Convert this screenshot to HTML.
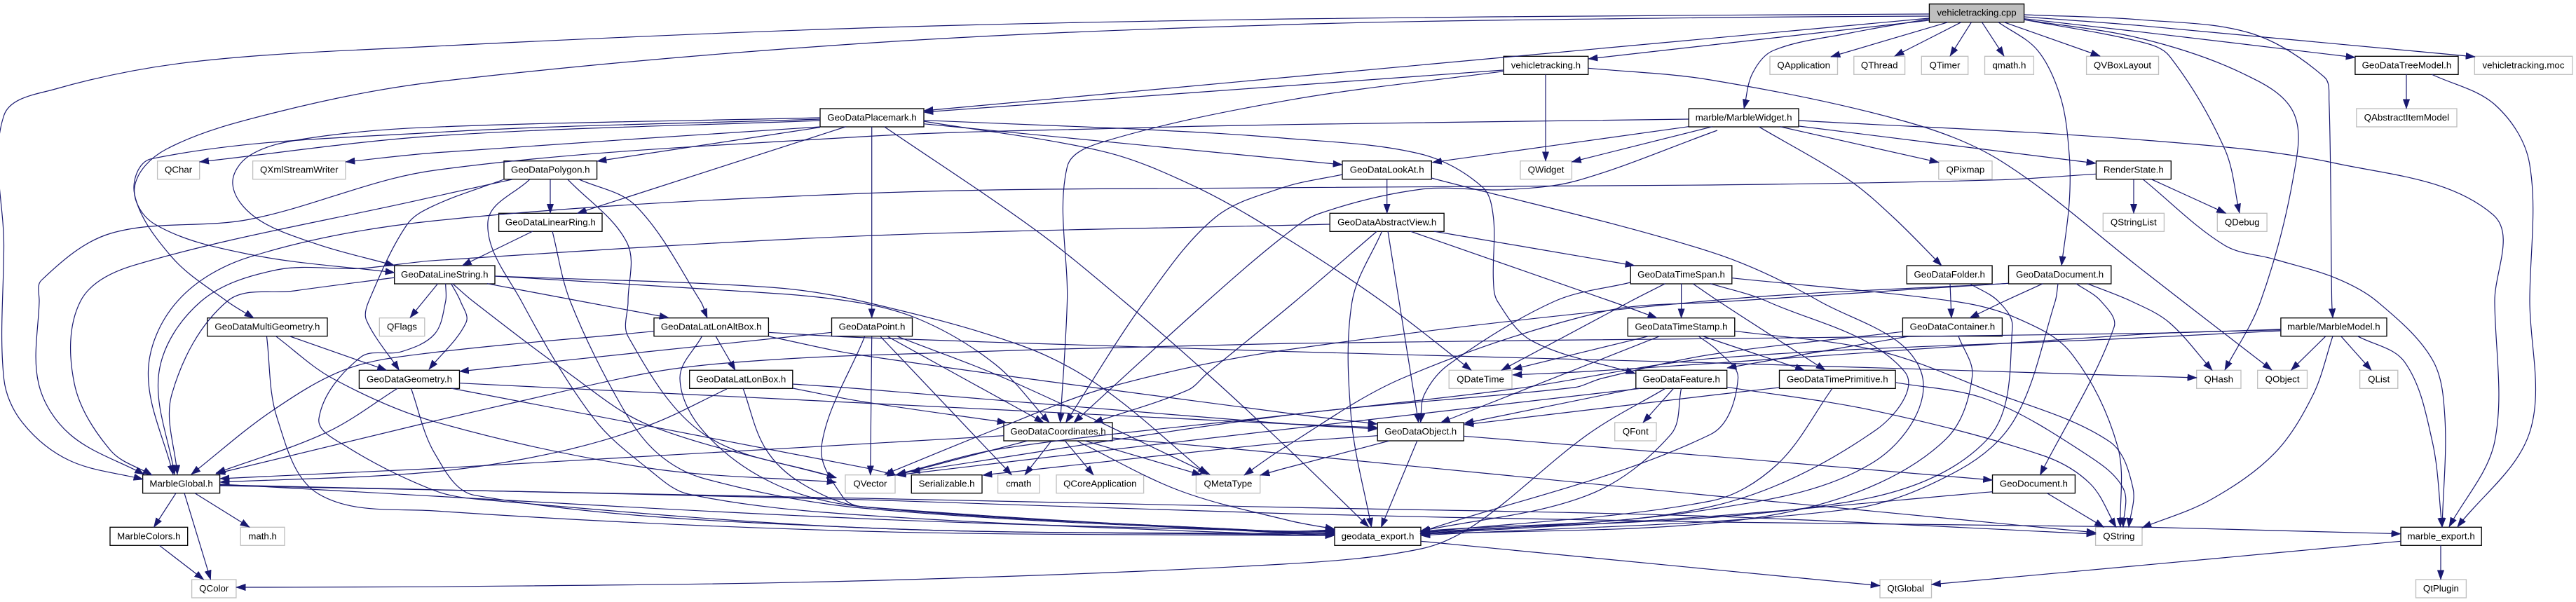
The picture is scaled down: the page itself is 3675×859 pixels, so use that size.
<!DOCTYPE html>
<html><head><meta charset="utf-8"><title>vehicletracking.cpp include graph</title>
<style>
html,body{margin:0;padding:0;background:#fff;width:3675px;height:859px;overflow:hidden}
svg{display:block}
.n rect{fill:#fff;stroke:#000;stroke-width:1.33}
.g rect{fill:#fff;stroke:#bfbfbf;stroke-width:1.33}
text{font-family:"Liberation Sans",sans-serif;font-size:13.33px;text-anchor:middle;fill:#000}
#E path{fill:none;stroke:#191970;stroke-width:1.2;marker-end:url(#a)}
</style></head><body>
<svg id="S" xmlns="http://www.w3.org/2000/svg" width="3675" height="859" viewBox="0 0 3675 859">
<defs><marker id="a" markerUnits="userSpaceOnUse" markerWidth="15" markerHeight="11" refX="13.3" refY="5" orient="auto"><path d="M0,0.3L13.3,5L0,9.7z" fill="#191970" stroke="#191970" stroke-width=".6"/></marker></defs>
<rect width="3675" height="859" fill="#fff"/>
<g class="n"><rect x="2752.4" y="5.7" width="135.2" height="26" style="fill:#bfbfbf"/><text x="2820" y="22.7">vehicletracking.cpp</text></g>
<g class="g"><rect x="2525" y="80.3" width="96.5" height="26"/><text x="2573.2" y="97.3">QApplication</text></g>
<g class="g"><rect x="2644.8" y="80.3" width="72.8" height="26"/><text x="2681.2" y="97.3">QThread</text></g>
<g class="g"><rect x="2741.3" y="80.3" width="66.4" height="26"/><text x="2774.5" y="97.3">QTimer</text></g>
<g class="g"><rect x="2831.5" y="80.3" width="69.9" height="26"/><text x="2866.4" y="97.3">qmath.h</text></g>
<g class="g"><rect x="2976.6" y="80.3" width="102.9" height="26"/><text x="3028" y="97.3">QVBoxLayout</text></g>
<g class="n"><rect x="2145.1" y="80.3" width="120.6" height="26"/><text x="2205.4" y="97.3">vehicletracking.h</text></g>
<g class="n"><rect x="3359.9" y="80.3" width="147.1" height="26"/><text x="3433.4" y="97.3">GeoDataTreeModel.h</text></g>
<g class="g"><rect x="3530.3" y="80.3" width="139.6" height="26"/><text x="3600" y="97.3">vehicletracking.moc</text></g>
<g class="n"><rect x="1170" y="155" width="148" height="26"/><text x="1244" y="172">GeoDataPlacemark.h</text></g>
<g class="n"><rect x="2409.3" y="155" width="156.7" height="26"/><text x="2487.6" y="172">marble/MarbleWidget.h</text></g>
<g class="g"><rect x="3361.8" y="155" width="143.2" height="26"/><text x="3433.4" y="172">QAbstractItemModel</text></g>
<g class="g"><rect x="224.6" y="229.7" width="60.1" height="26"/><text x="254.6" y="246.7">QChar</text></g>
<g class="g"><rect x="360.6" y="229.7" width="132.4" height="26"/><text x="426.8" y="246.7">QXmlStreamWriter</text></g>
<g class="n"><rect x="719" y="229.7" width="132.6" height="26"/><text x="785.3" y="246.7">GeoDataPolygon.h</text></g>
<g class="n"><rect x="1915" y="229.7" width="127.3" height="26"/><text x="1978.7" y="246.7">GeoDataLookAt.h</text></g>
<g class="g"><rect x="2168.9" y="229.7" width="73.5" height="26"/><text x="2205.6" y="246.7">QWidget</text></g>
<g class="g"><rect x="2765.8" y="229.7" width="76.2" height="26"/><text x="2803.9" y="246.7">QPixmap</text></g>
<g class="n"><rect x="2990.4" y="229.7" width="106.9" height="26"/><text x="3043.8" y="246.7">RenderState.h</text></g>
<g class="n"><rect x="711.6" y="304.3" width="147.4" height="26"/><text x="785.3" y="321.3">GeoDataLinearRing.h</text></g>
<g class="n"><rect x="1897.2" y="304.3" width="162.9" height="26"/><text x="1978.7" y="321.3">GeoDataAbstractView.h</text></g>
<g class="g"><rect x="3000.3" y="304.3" width="87.1" height="26"/><text x="3043.8" y="321.3">QStringList</text></g>
<g class="g"><rect x="3163.3" y="304.3" width="70.8" height="26"/><text x="3198.7" y="321.3">QDebug</text></g>
<g class="n"><rect x="562.7" y="379" width="143.3" height="26"/><text x="634.3" y="396">GeoDataLineString.h</text></g>
<g class="n"><rect x="2326.2" y="379" width="144.6" height="26"/><text x="2398.5" y="396">GeoDataTimeSpan.h</text></g>
<g class="n"><rect x="2720.3" y="379" width="121.8" height="26"/><text x="2781.2" y="396">GeoDataFolder.h</text></g>
<g class="n"><rect x="2865.5" y="379" width="146.3" height="26"/><text x="2938.6" y="396">GeoDataDocument.h</text></g>
<g class="n"><rect x="295.8" y="453.7" width="171.2" height="26"/><text x="381.4" y="470.7">GeoDataMultiGeometry.h</text></g>
<g class="g"><rect x="541.3" y="453.7" width="64.5" height="26"/><text x="573.5" y="470.7">QFlags</text></g>
<g class="n"><rect x="933" y="453.7" width="163.4" height="26"/><text x="1014.7" y="470.7">GeoDataLatLonAltBox.h</text></g>
<g class="n"><rect x="1186.5" y="453.7" width="115" height="26"/><text x="1244" y="470.7">GeoDataPoint.h</text></g>
<g class="n"><rect x="2322.3" y="453.7" width="152.5" height="26"/><text x="2398.5" y="470.7">GeoDataTimeStamp.h</text></g>
<g class="n"><rect x="2714.4" y="453.7" width="142" height="26"/><text x="2785.4" y="470.7">GeoDataContainer.h</text></g>
<g class="n"><rect x="3253.9" y="453.7" width="151.1" height="26"/><text x="3329.4" y="470.7">marble/MarbleModel.h</text></g>
<g class="n"><rect x="512.4" y="528.3" width="143.1" height="26"/><text x="584" y="545.3">GeoDataGeometry.h</text></g>
<g class="n"><rect x="983.7" y="528.3" width="147.1" height="26"/><text x="1057.2" y="545.3">GeoDataLatLonBox.h</text></g>
<g class="g"><rect x="2067.2" y="528.3" width="89.8" height="26"/><text x="2112.1" y="545.3">QDateTime</text></g>
<g class="n"><rect x="2333.8" y="528.3" width="129.9" height="26"/><text x="2398.7" y="545.3">GeoDataFeature.h</text></g>
<g class="n"><rect x="2538.5" y="528.3" width="165.6" height="26"/><text x="2621.3" y="545.3">GeoDataTimePrimitive.h</text></g>
<g class="g"><rect x="3133.7" y="528.3" width="63.3" height="26"/><text x="3165.3" y="545.3">QHash</text></g>
<g class="g"><rect x="3220.7" y="528.3" width="70.8" height="26"/><text x="3256.1" y="545.3">QObject</text></g>
<g class="g"><rect x="3366.6" y="528.3" width="54.2" height="26"/><text x="3393.7" y="545.3">QList</text></g>
<g class="n"><rect x="1432" y="603" width="155" height="26"/><text x="1509.5" y="620">GeoDataCoordinates.h</text></g>
<g class="n"><rect x="1965.2" y="603" width="123" height="26"/><text x="2026.7" y="620">GeoDataObject.h</text></g>
<g class="g"><rect x="2303.7" y="603" width="59.3" height="26"/><text x="2333.3" y="620">QFont</text></g>
<g class="n"><rect x="203.6" y="677.7" width="110" height="26"/><text x="258.6" y="694.7">MarbleGlobal.h</text></g>
<g class="g"><rect x="1205.9" y="677.7" width="71.1" height="26"/><text x="1241.4" y="694.7">QVector</text></g>
<g class="n"><rect x="1300.3" y="677.7" width="100.7" height="26"/><text x="1350.6" y="694.7">Serializable.h</text></g>
<g class="g"><rect x="1423.6" y="677.7" width="59.4" height="26"/><text x="1453.3" y="694.7">cmath</text></g>
<g class="g"><rect x="1507" y="677.7" width="124.6" height="26"/><text x="1569.3" y="694.7">QCoreApplication</text></g>
<g class="g"><rect x="1706.4" y="677.7" width="91.3" height="26"/><text x="1752" y="694.7">QMetaType</text></g>
<g class="n"><rect x="2842.5" y="677.7" width="117.9" height="26"/><text x="2901.4" y="694.7">GeoDocument.h</text></g>
<g class="n"><rect x="157" y="752.3" width="110.7" height="26"/><text x="212.3" y="769.3">MarbleColors.h</text></g>
<g class="g"><rect x="343.2" y="752.3" width="62.8" height="26"/><text x="374.6" y="769.3">math.h</text></g>
<g class="n"><rect x="1904" y="752.3" width="123" height="26"/><text x="1965.5" y="769.3">geodata_export.h</text></g>
<g class="g"><rect x="2989.6" y="752.3" width="66.4" height="26"/><text x="3022.8" y="769.3">QString</text></g>
<g class="n"><rect x="3425" y="752.3" width="115.2" height="26"/><text x="3482.6" y="769.3">marble_export.h</text></g>
<g class="g"><rect x="273.6" y="827" width="63.3" height="26"/><text x="305.2" y="844">QColor</text></g>
<g class="g"><rect x="2682" y="827" width="73.5" height="26"/><text x="2718.7" y="844">QtGlobal</text></g>
<g class="g"><rect x="3446.5" y="827" width="71.9" height="26"/><text x="3482.4" y="844">QtPlugin</text></g>
<g id="E"></g>
</svg>
<script>
var E=[
"2752,20 2450,21.7 1840,27 1230,40 620,66 277,88 79,127 5.5,165 5.5,350 5.5,540 32,603 99,657 204,684",
"2752,26 1318,158","2145,100 1318,160","2752,29 2266,84",
"2752,27 2640,47 2530,72 2500,105 2488,155",
"2779,31.7 2612,81","2798,31.7 2703,80","2812.5,31.7 2782,80","2827.5,31.7 2859,80",
"2851,31.7 2907,72 2940,140 2952,220 2952,290 2941,379",
"2859,31.7 2996,80",
"2887.6,28 3055,60 3095,80 3174,213 3195,304",
"2887.6,28 3055,55 3200,105 3271.7,160 3271.7,253 3225,430 3174,528",
"2887.6,21 3055,28.3 3213,48 3316,110 3322.7,143 3326.6,430 3328,453.7",
"2887.6,26.7 3055,45.7 3360,82","2887.6,24 3055,36.7 3531,81",
"2752,23 2450,25 1840,35 1230,62 620,117 395,160 237,213 192,267 221,320 356,363 563,389",
"2205,106.3 2205,229.7",
"2265.7,97.3 2440,114 2717,173 2855,230 3060,388 3114,430 3241,528",
"2145,101.7 1840,142.7 1576,201.7 1522.5,238 1522.5,430 1512.6,603",
"3433,106 3433,155",
"3469,106 3560,150 3608.6,233 3609,430 3609,616.7 3505.8,752",
"2409,170 1840,177.7 1596,183 1230,195 620,243 356,313 158,333 59,400 56,430 55,547 100,620 205.6,677",
"2409,180.7 2043.5,231.7","2443,180.7 2242.4,231",
"2450,186 2249,258 2146,270.7 2027.7,270 1881.4,305 1830,338 1722,430 1532,603",
"2539,180.7 2766,231.7","2566.5,180 2990,233",
"2509,180.7 2637.7,256.7 2701,310 2770,379",
"2566.5,172 3060,200 3332,233 3557,306.7 3559,430 3559,630 3494,751.7",
"2990.4,248.3 2851,256.7 2440,264 1840,267.7 1230,276 620,315 356,366.7 253,430 211.5,530 247,677",
"3044,255.7 3044,304.3","3069,255.7 3175.6,304.3",
"3057,255.7 3173.6,350 3245,370 3332,396.7 3391,430 3470,513 3488,596.7 3484,752.3",
"1170,170 620,189 215.5,226.7 191.8,276.7 245,366.7 324,430 362,453.7",
"1170,168 610,181.7 435,198 356,222 332,263 364,310 447,346.7 563,379",
"1170,172 620,194 284.7,231","1170,181 620,218 493,231",
"1170,181.7 852,230","1207,180.7 823.5,304.3",
"1317.7,176.7 1915,235",
"1317.7,171.7 1596,183 1830,197 2027.7,220 2114.7,266.7 2130.5,310 2130.5,400 2136.4,430 2186,486.7 2333,533",
"1317.7,173 1576,216.7 1706,266.7 1830,336.7 1971.6,430 2099,528.3",
"1261.5,180.7 1477,328 1603.5,430 1722,533 1830,633 1952.6,751.7",
"1243.7,180.7 1243.7,453.7",
"1978.7,255.7 1978.7,304.3",
"1915,249 1830,267.7 1734,310 1633,430 1520.5,603",
"2042,254 2440,359.3 2596,430 2740.5,530 2677,656.7 2440,726.7 2026,761.7",
"1897,320 1230,336.7 620,371.7 514,383 395,385 286.7,430 227,530 249,677",
"1980,330 1996,430 2023.7,603",
"1964.4,330 1847.8,430 1722,533 1694.5,556.7 1560,603",
"1971.6,330 1929,430 1927.7,596.7 1956.5,752.3",
"2045.5,330 2332,379","2012,330 2298.6,430 2364,453.7",
"760,330 659.4,379",
"788,330 813.6,430 887,580 938,646.7 1005,683 1230,725 1840,760 1904,758",
"718.7,256 620,293 581,320 526,430 522.7,456.7 569.4,528.3",
"730.6,256 610,282.7 191.8,378.3 114.7,430 106,547 158,643 217,678",
"785,255.7 785,304.3",
"825.5,255.7 906.6,293.3 999.5,430 1009,453.7",
"809.7,255.7 894.7,346.7 896,430 896,480 1005,620 1193,681.7",
"756,255.7 696,316.7 744,430 847,597 926,670 982,705 1230,735 1840,763 1904,760",
"563.5,396 420,415 324,430 245,563 253,677",
"706,394 1000,412 1200,428 1310,455 1420,520 1497,603",
"706,394 1100,410 1230,430 1457,493 1572,553 1722,677",
"624.6,404.7 585,453.3","643.6,404.7 657,430 665,460 612,527",
"695,404.7 829.5,430 954,453.3",
"645.6,404.7 675,430 807.7,530 926,606.7 1193,681.7",
"635.7,404.7 635.7,430 620,476.7 573,501.7 514,510 455,597 494,637 620,700 689,713 1230,753 1840,763 1904,763",
"413,479.7 551.6,528.3",
"393.4,479.7 474.5,540 620,601.7 926,668 1193,688",
"380.4,479.7 395.4,596.7 454.7,705 620,729 1230,758 1840,764 1904,764",
"933,472.7 610,504 494,526.7 387.5,586.7 272.8,677",
"1021,479.7 1049,528.3",
"1096.4,474.3 1230,481.7 1840,501.7 2450,518 3060,536.7 3134,539",
"1096.4,480 1230,507 1840,590 1965,605",
"1001.5,479.7 970,540 1005,617 1104,690 1230,723 1840,759 1904,757",
"567.4,554 466.6,616.7 308.4,675",
"655.5,546.7 1230,575 1840,605 1965,610",
"643.6,554 1230,666.7 1279,678",
"586.4,554 620,646.7 677,706.7 1230,753 1904,762",
"1037,555 926,606.7 788,646.7 610,674 314,688",
"1130.8,554 1230,573 1436,603","1130.8,548 1230,555 1840,605 1965,612",
"1060,554 1092,640 1144,690 1230,723 1840,759 1904,759",
"1186.5,474.3 655.5,530","1243.7,479.7 1241.7,677.7","1265.5,479.7 1489,603","1255.6,479.7 1443.4,677.7",
"1279.3,479.7 1441,543 1726,677",
"1233.8,479.7 1172,637 1203,710 1230,723 1840,761 1904,761",
"1432,621.7 610,669 314,683",
"1466,629 1279,678","1500,629 1462,677.7","1519.3,629 1560,677.7","1548,629 1714,677.7",
"1536,629 1682.6,700 1840,743 1904,755",
"1587,625 1840,648 2450,708 2990,760",
"1965,621.7 1830,631.7 1402,678","1982,629 1830,669 1798,678",
"2021.8,629 1970.4,752.3",
"2088,622.3 2450,651.7 2842.5,685",
"2920.4,703.7 3001.5,752.3","2842.5,701.7 2440,736.7 2027,762",
"2340,554.3 1830,613 1279,678",
"2714.4,473.3 2440,506 2285,540 2245,553 1840,592 1299,673",
"2722.7,480 2560,508 2464,525",
"3253.9,470.7 3060,476.7 2450,518 2265,530 2158,535",
"3253.9,470 3060,475.7 2440,483.3 1840,490 1230,507 1037,518 926,532 740,573 610,603 308,676",
"3253.9,472 3060,481.7 2440,511.7 2160,555 1830,593 1430,640 1279,677",
"3328,479.7 3300,563 3245,646.7 3154,713 3056,753",
"3318,479.7 3268.5,528.3","3339.7,479.7 3383,528.3",
"3363.4,479.7 3430.6,516.7 3470,630 3484,752.3",
"2865.5,404.3 2440,429 1830,500 1580,553 1427,610 1262,677",
"2865.5,404.3 2450,431 2285,445 2000,540 1830,640 1775,678",
"2914.5,404.7 2859,430 2810,453.7",
"2936,404.7 2932,430 2875,596.7 2796,670 2637.7,726.7 2027,764",
"2962,404.7 2997.5,430 3016,466.7 2910.5,677.7",
"2977.8,404.7 3041,430 3094.5,460 3156,528.3",
"2810,404.7 2851,430 2871,466.7 2835,627 2638,716 2027,760",
"2782,404.7 2784,453.7",
"2794,479.7 2813.7,536.7 2776,626.7 2637.7,706.7 2440,746.7 2027,762",
"2398.6,404.7 2398.6,453.7",
"2375.7,404.7 2326,430 2142,528.3",
"2415,404.7 2452,430 2604,528.3",
"2471,396.7 2788,430 2875,453 2954,503 3021,636.7 3025,752",
"2440,404.7 2521,430 2717,530 2677,613 2440,723 2027,758",
"2326,403 2217.5,430 2067,520 2032,563 2026.5,603",
"2352,479.7 2158,527","2367.8,479.7 2055.4,603","2430,480 2574.4,528.3",
"2423,479.7 2450,500 2479.5,540 2440,620 2027,759",
"2474.8,472.3 2677,500 2835,556.7 3009.4,630 3043,696.7 3037,752.3",
"2538.5,553 2450,563 2089,606",
"2704,545.7 2835,570 2974,646.7 3029,696.7 3029,752.3",
"2614,554.3 2535,663 2440,715 2027,760",
"2333.8,554.3 2089,604",
"2387.5,554.3 2344,603",
"2375.7,554.3 2265,620 2107,746.7 2027.7,783 1830,805 1220,829 610,837.3 337,838",
"2398.6,554.3 2383.6,620 2265,706.7 2026,758",
"2463.7,552.3 2677,586.7 2914.5,650 2981.7,690 3019,752.3",
"2027,772.3 2450,813.3 2682,835.7",
"3425,772.3 3055,806.7 2755.5,834",
"3482,778.3 3482,827",
"251,703.7 219.5,752.3","263,703.7 300.5,827","278,703.7 356,752.3","227.4,778.3 290.6,827",
"314,693 1230,711 1840,724 2440,736.7 2990,762",
"314,692 1230,713 1840,733 2450,745 3055,752 3425,761.7",
"314,691 1230,740 1840,758 1904,756"
];
var g=document.getElementById("E"),NS="http://www.w3.org/2000/svg";
E.forEach(function(s){
 var p=s.split(" ").map(function(t){return t.split(",").map(Number)}),n=p.length,d="M"+p[0].join(",");
 function T(i){var a=p[Math.max(i-1,0)],b=p[Math.min(i+1,n-1)],x=b[0]-a[0],y=b[1]-a[1],l=Math.hypot(x,y)||1;return [x/l,y/l]}
 for(var i=0;i<n-1;i++){
  var l=Math.hypot(p[i+1][0]-p[i][0],p[i+1][1]-p[i][1])/3,t0=T(i),t1=T(i+1);
  d+="C"+(p[i][0]+t0[0]*l).toFixed(1)+","+(p[i][1]+t0[1]*l).toFixed(1)+" "+(p[i+1][0]-t1[0]*l).toFixed(1)+","+(p[i+1][1]-t1[1]*l).toFixed(1)+" "+p[i+1].join(",");
 }
 var e=document.createElementNS(NS,"path");e.setAttribute("d",d);g.appendChild(e);
});
</script>
</body></html>
